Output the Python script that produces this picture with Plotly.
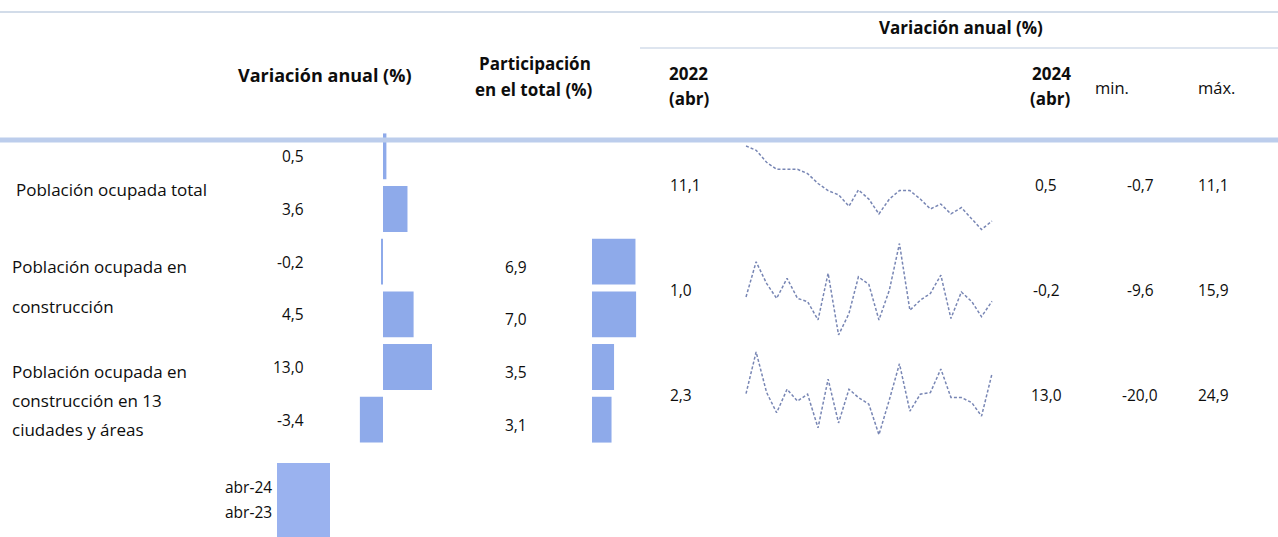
import plotly.graph_objects as go
import pandas as pd

W, H = 1278, 537


def X(px):
    return px / W


def Y(py):
    return 1 - py / H


# ---------------- data ----------------
indicators = [
    "Población ocupada total",
    "Población ocupada en\nconstrucción",
    "Población ocupada en\nconstrucción en 13\nciudades y áreas",
]
periods = ["abr-24", "abr-23"]
var_abr24 = [0.5, -0.2, 13.0]
var_abr23 = [3.6, 4.5, -3.4]
part_abr24 = [None, 6.9, 3.5]
part_abr23 = [None, 7.0, 3.1]
val_2022 = [11.1, 1.0, 2.3]
val_2024 = [0.5, -0.2, 13.0]
val_min = [-0.7, -9.6, -20.0]
val_max = [11.1, 15.9, 24.9]

months = pd.date_range("2022-04-01", periods=25, freq="MS")
spark_total = [11.1, 10.5, 8.8, 7.8, 7.8, 7.8, 7.2, 5.8, 4.8, 4.2, 2.6, 4.9, 3.6,
               1.5, 3.6, 4.8, 4.8, 3.6, 2.2, 2.9, 1.5, 2.4, 0.8, -0.7, 0.5]
spark_constr = [1.0, 10.8, 4.8, 0.6, 6.2, 0.6, -0.3, -5.4, 7.6, -9.6, -3.6, 6.6, 4.5,
                -5.4, 2.9, 15.9, -2.7, 0.1, 2.0, 7.1, -5.0, 2.4, -0.3, -4.5, -0.2]
spark_13 = [2.3, 24.9, 3.0, -8.1, 4.7, -1.7, 2.0, -16.3, 10.2, -13.6, 4.7, 0.2, -3.4,
            -20.0, -1.0, 18.5, -7.2, 2.0, 2.9, 15.7, 0.2, 0.2, -2.6, -9.9, 13.0]
sparks = [spark_total, spark_constr, spark_13]

header_left = "Variación anual (%)"
header_part = ["Participación", "en el total (%)"]
header_right = "Variación anual (%)"
header_2022 = ["2022", "(abr)"]
header_2024 = ["2024", "(abr)"]
header_min = "min."
header_max = "máx."

# ---------------- style ----------------
FONT = "Open Sans"
TXT = "#0d0d0d"
BAR = "#8eaaea"
SPARK = "#7886b4"
FS_LABEL = 17
FS_HEAD = 17
FS_NUM = 15.5


def fmt(v):
    return f"{v:.1f}".replace(".", ",")


fig = go.Figure()

sub_rows = [f"{i}|{p}" for i in range(len(indicators)) for p in periods]
var_vals, part_vals = [], []
for i in range(len(indicators)):
    var_vals += [var_abr24[i], var_abr23[i]]
    part_vals += [part_abr24[i], part_abr23[i]]

fig.add_trace(go.Bar(y=sub_rows, x=var_vals, orientation="h", xaxis="x", yaxis="y",
                     marker=dict(color=BAR, line=dict(width=0)), showlegend=False,
                     hoverinfo="skip"))
fig.add_trace(go.Bar(y=sub_rows, x=part_vals, orientation="h", xaxis="x2", yaxis="y",
                     marker=dict(color=BAR, line=dict(width=0)), showlegend=False,
                     hoverinfo="skip"))

# sparkline layout (pixel extents)
spark_x = (746, 992)
spark_y = [(146, 229.5), (243.5, 335), (352, 434.7)]
pad_px = 3
for k, s in enumerate(sparks):
    fig.add_trace(go.Scatter(x=months, y=s, mode="lines",
                             line=dict(color=SPARK, width=1.5, dash="3px,2px"),
                             xaxis=f"x{k+3}", yaxis=f"y{k+2}", showlegend=False,
                             hoverinfo="skip"))

ZERO, SCALE = 383, 6.8
layout_axes = {}
layout_axes["xaxis"] = dict(domain=[X(350), X(432)],
                            range=[-(ZERO - 350) / SCALE, (432 - ZERO) / SCALE],
                            visible=False, anchor="y", fixedrange=True)
layout_axes["xaxis2"] = dict(domain=[X(592), X(640)], range=[0, 48 / 6.3],
                             visible=False, anchor="y", fixedrange=True)
layout_axes["yaxis"] = dict(domain=[Y(446), Y(130)], type="category",
                            categoryorder="array", categoryarray=sub_rows,
                            range=[len(sub_rows) - 0.5, -0.5], visible=False,
                            anchor="x", fixedrange=True)
for k, s in enumerate(sparks):
    top, bot = spark_y[k]
    lo, hi = min(s), max(s)
    upp = (hi - lo) / (bot - top)
    layout_axes[f"xaxis{k+3}"] = dict(domain=[X(spark_x[0] - pad_px), X(spark_x[1] + pad_px)],
                                      range=[months[0] - pd.Timedelta(days=9),
                                             months[-1] + pd.Timedelta(days=9)],
                                      visible=False, anchor=f"y{k+2}", fixedrange=True)
    layout_axes[f"yaxis{k+2}"] = dict(domain=[Y(bot + pad_px), Y(top - pad_px)],
                                      range=[lo - pad_px * upp, hi + pad_px * upp],
                                      visible=False, anchor=f"x{k+3}", fixedrange=True)

ann = []


def add_text(text, x, y, xanchor="center", size=FS_NUM, bold=False, yref="paper",
             yshift=0, color=TXT):
    ann.append(dict(text=f"<b>{text}</b>" if bold else text, x=x, y=y, xref="paper",
                    yref=yref, xanchor=xanchor, yanchor="middle", showarrow=False,
                    yshift=yshift, font=dict(family=FONT, size=size, color=color)))


# headers
add_text(header_left, X(325), Y(75), size=18, bold=True)
add_text(header_part[0], X(535), Y(63), size=FS_HEAD, bold=True)
add_text(header_part[1], X(534), Y(90), size=FS_HEAD, bold=True)
add_text(header_right, X(961), Y(28), size=FS_HEAD, bold=True)
add_text(header_2022[0], X(667), Y(73), xanchor="left", size=FS_HEAD, bold=True)
add_text(header_2022[1], X(667), Y(98), xanchor="left", size=FS_HEAD, bold=True)
add_text(header_2024[0], X(1030), Y(73), xanchor="left", size=FS_HEAD, bold=True)
add_text(header_2024[1], X(1028), Y(98), xanchor="left", size=FS_HEAD, bold=True)
add_text(header_min, X(1112), Y(87), size=16.5)
add_text(header_max, X(1216), Y(87), size=16.5)

# row labels
label_x = [14, 10, 10]
label_line_y = [[190], [266, 306], [371, 400, 429]]
for i, lab in enumerate(indicators):
    for line, py in zip(lab.split("\n"), label_line_y[i]):
        add_text(line, X(label_x[i]), Y(py), xanchor="left", size=FS_LABEL)

# values beside bars
for cat, v in zip(sub_rows, var_vals):
    add_text(fmt(v), X(306), cat, xanchor="right", yref="y")
for cat, v in zip(sub_rows, part_vals):
    if v is not None:
        add_text(fmt(v), X(529), cat, xanchor="right", yref="y", yshift=-5)

row_y = [185, 290, 395]
for i in range(len(indicators)):
    add_text(fmt(val_2022[i]), X(668), Y(row_y[i]), xanchor="left")
    add_text(fmt(val_2024[i]), X(1046), Y(row_y[i]))
    add_text(fmt(val_min[i]), X(1140), Y(row_y[i]))
    add_text(fmt(val_max[i]), X(1213), Y(row_y[i]))

# legend
add_text(periods[0], X(274), Y(487), xanchor="right")
add_text(periods[1], X(274), Y(512), xanchor="right")

shapes = [
    dict(type="line", xref="paper", yref="paper", x0=0, x1=1, y0=Y(12), y1=Y(12),
         line=dict(color="#c3d0e2", width=1.6)),
    dict(type="line", xref="paper", yref="paper", x0=X(640), x1=1, y0=Y(48), y1=Y(48),
         line=dict(color="#d3dcea", width=1.5)),
    dict(type="line", xref="paper", yref="paper", x0=0, x1=1, y0=Y(140), y1=Y(140),
         line=dict(color="#bccdec", width=5)),
    dict(type="rect", xref="paper", yref="paper", x0=X(277), x1=X(330), y0=Y(537),
         y1=Y(463), line=dict(width=0), fillcolor="#9ab2ef", layer="below"),
]

fig.update_layout(
    width=W, height=H, autosize=False,
    margin=dict(l=0, r=0, t=0, b=0, pad=0),
    paper_bgcolor="white", plot_bgcolor="rgba(0,0,0,0)",
    barmode="overlay", bargap=0.13,
    showlegend=False,
    annotations=ann, shapes=shapes,
    **layout_axes,
)

fig.write_html("out.html", config={"displayModeBar": False},
               post_script="document.body.style.margin='0px';"
                           "document.body.style.overflow='hidden';")
